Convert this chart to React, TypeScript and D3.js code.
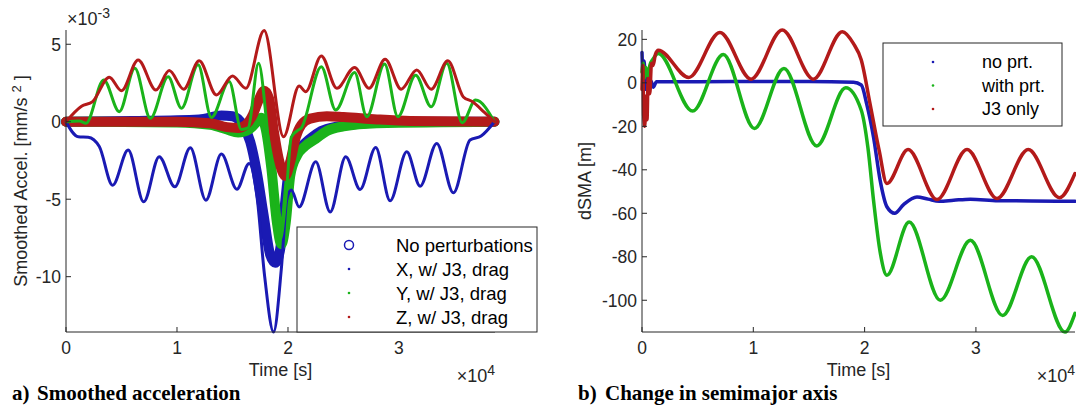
import React, { useEffect } from "react";
import * as d3 from "d3";

type Pt = [number, number];

// ---- a) smoothed acceleration, time in 1e4 s, accel in 1e-3 mm/s^2 ----
// "No perturbations" (drawn with circle markers -> thick bands)
const xNoPert: Pt[] = [
  [0, 0], [0.6, 0.05], [1.2, 0.15], [1.4, 0.4], [1.5, 0.35], [1.6, -0.3], [1.66, -1.3],
  [1.72, -3.3], [1.78, -6.0], [1.84, -8.6], [1.885, -9.1], [1.93, -8.2], [1.97, -5.5],
  [2.01, -3.0], [2.06, -2.0], [2.12, -1.6], [2.2, -1.1], [2.3, -0.6], [2.45, -0.3],
  [2.7, -0.1], [3.0, 0], [3.86, 0],
];
const yNoPert: Pt[] = [
  [0, 0], [1.0, -0.05], [1.3, -0.2], [1.45, -0.5], [1.55, -0.7], [1.65, -0.5], [1.72, 0.0],
  [1.76, 0.25], [1.8, -0.5], [1.85, -3.0], [1.9, -6.5], [1.94, -7.9], [1.98, -6.5],
  [2.02, -3.5], [2.08, -2.2], [2.15, -1.6], [2.25, -1.1], [2.35, -0.6], [2.5, -0.3],
  [2.8, -0.1], [3.86, 0],
];
const zNoPert: Pt[] = [
  [0, 0], [1.0, 0.0], [1.3, -0.1], [1.45, -0.35], [1.55, -0.4], [1.62, -0.2], [1.68, 0.4],
  [1.73, 1.3], [1.785, 2.0], [1.83, 1.5], [1.87, -0.5], [1.92, -2.5], [1.975, -3.5],
  [2.02, -2.6], [2.07, -1.0], [2.12, -0.2], [2.2, 0.2], [2.35, 0.35], [2.5, 0.3],
  [2.8, 0.15], [3.1, 0.05], [3.86, 0],
];
// with J3 and drag (dot markers -> thin lines)
const xJ3: Pt[] = [
  [0, 0], [0.11, -0.97], [0.2, -1.0], [0.3, -1.6], [0.42, -4.1], [0.56, -1.83], [0.7, -5.17],
  [0.84, -2.26], [0.98, -4.2], [1.12, -1.68], [1.26, -5.06], [1.4, -2.09], [1.54, -4.35],
  [1.65, -2.69], [1.72, -4.8], [1.79, -10], [1.87, -13.57], [1.94, -9.5], [1.99, -5.0],
  [2.03, -4.4], [2.1, -5.5], [2.25, -2.59], [2.38, -5.82], [2.52, -2.26], [2.65, -4.37],
  [2.79, -1.66], [2.92, -5.1], [3.07, -1.94], [3.19, -4.16], [3.34, -1.4], [3.49, -4.59],
  [3.64, -1.18], [3.74, -0.92], [3.86, 0],
];
const yJ3: Pt[] = [
  [0, 0], [0.12, 0.05], [0.18, -0.1], [0.34, 2.7], [0.48, 0.65], [0.62, 3.45], [0.76, 0.22],
  [0.92, 2.9], [1.04, 0.87], [1.19, 3.67], [1.31, 0.28], [1.47, 2.59], [1.58, -0.5],
  [1.64, -0.4], [1.735, 3.77], [1.8, 0.5], [1.86, -4.5], [1.93, -7.6], [1.98, -5],
  [2.03, -1.0], [2.08, -0.6], [2.12, -0.4], [2.3, 3.55], [2.43, 0.76], [2.6, 3.17],
  [2.71, 0.32], [2.87, 3.73], [2.99, 0.32], [3.15, 3.0], [3.29, 0.97], [3.43, 3.77],
  [3.57, -0.06], [3.69, 1.4], [3.86, 0],
];
const zJ3: Pt[] = [
  [0, 0], [0.14, 1.0], [0.24, 1.3], [0.39, 2.87], [0.5, 2.0], [0.65, 3.99], [0.81, 2.05],
  [0.93, 3.3], [1.06, 2.1], [1.2, 3.94], [1.355, 1.73], [1.5, 2.95], [1.62, 2.16],
  [1.785, 5.88], [1.96, -0.97], [2.1, 2.3], [2.16, 1.94], [2.3, 4.25], [2.44, 2.16],
  [2.6, 3.5], [2.73, 2.16], [2.875, 4.03], [3.02, 2.1], [3.16, 3.34], [3.29, 2.1],
  [3.44, 3.94], [3.58, 1.6], [3.66, 1.3], [3.77, 0.6], [3.86, 0],
];

// ---- b) change in semimajor axis [m] ----
const smaNoPrt: Pt[] = [
  [0, 14], [0.01, 2], [0.02, 10], [0.03, -3], [0.045, 6], [0.06, -4], [0.08, 1], [0.1, -2],
  [0.13, 0.5], [0.5, 0.5], [1.0, 0.6], [1.5, 0.6], [1.9, 0.3], [1.97, -1], [2.02, -10],
  [2.08, -25], [2.14, -45], [2.2, -57], [2.27, -60], [2.35, -56], [2.47, -52.5],
  [2.57, -53.5], [2.67, -54.5], [2.8, -54], [2.95, -53.5], [3.2, -54.2], [3.5, -54.3],
  [3.89, -54.5],
];
const smaWithPrt: Pt[] = [
  [0, 5], [0.01, 9], [0.02, 2], [0.035, 7], [0.05, 3], [0.07, 8], [0.1, 11], [0.146, 13.5],
  [0.455, -13], [0.73, 13], [1.01, -21], [1.275, 6.6], [1.57, -29], [1.83, -2.3],
  [1.97, -12.6], [2.03, -30], [2.08, -54], [2.14, -78], [2.2, -88.5], [2.4, -64],
  [2.68, -100], [2.95, -72.4], [3.24, -107], [3.5, -80], [3.8, -114.6], [3.89, -106],
];
const smaJ3Only: Pt[] = [
  [0, -3], [0.008, 8], [0.015, -15], [0.025, -20], [0.035, -6], [0.045, -17], [0.055, 2],
  [0.07, -5], [0.085, 9], [0.1, 8], [0.12, 13], [0.146, 15], [0.42, 2.5], [0.7, 23.2],
  [0.98, 1.7], [1.26, 24.3], [1.54, 1.7], [1.8, 23.5], [1.9, 18], [1.97, 10.5], [2.05, -10],
  [2.13, -31], [2.2, -46.3], [2.39, -30.7], [2.65, -53.7], [2.92, -30.7], [3.19, -53.2],
  [3.47, -30.7], [3.75, -52.8], [3.89, -41.7],
];

const timeTicks = [0, 1, 2, 3];
const accelTicks = [5, 0, -5, -10];
const smaTicks = [20, 0, -20, -40, -60, -80, -100];
const accelLegend = ["No perturbations", "X, w/ J3, drag", "Y, w/ J3, drag", "Z, w/ J3, drag"];
const smaLegend = ["no prt.", "with prt.", "J3 only"];

const BLUE = "#1a1ab3";
const GREEN = "#1ab31a";
const RED = "#b31a1a";
const AX = "#262626";
const SANS = "'Liberation Sans', Arial, Helvetica, sans-serif";
const SERIF = "'Liberation Serif', 'Times New Roman', serif";
const TICK_FS = 17.5;

const W = 1076;
const H = 410;

const ax1 = {
  x: d3.scaleLinear().domain([0, 3.865]).range([66, 495]),
  y: d3.scaleLinear().domain([-13.57, 5.92]).range([332, 30]),
};
const ax2 = {
  x: d3.scaleLinear().domain([0, 3.89]).range([642, 1075]),
  y: d3.scaleLinear().domain([-114.6, 24.3]).range([332, 30]),
};

const pathFor = (sx, sy, data: Pt[]) =>
  d3
    .line<Pt>()
    .x((d) => sx(d[0]))
    .y((d) => sy(d[1]))
    .curve(d3.curveMonotoneX)(data) || "";

function Axes({ sx, sy, yTicks }) {
  const [x0, x1] = sx.range();
  const [y1, y0] = sy.range();
  return (
    <g>
      <line x1={x0} x2={x1} y1={y1} y2={y1} stroke={AX} strokeWidth={1} />
      <line x1={x0} x2={x0} y1={y0} y2={y1} stroke={AX} strokeWidth={1} />
      {timeTicks.map((t) => (
        <g key={"x" + t}>
          <line x1={sx(t)} x2={sx(t)} y1={y1} y2={y1 - 5} stroke={AX} />
          <text x={sx(t)} y={354} textAnchor="middle" fontSize={TICK_FS} fill={AX}>
            {t}
          </text>
        </g>
      ))}
      {yTicks.map((t) => (
        <g key={"y" + t}>
          <line x1={x0} x2={x0 + 5} y1={sy(t)} y2={sy(t)} stroke={AX} />
          <text x={x0 - 5} y={sy(t)} dy="0.36em" textAnchor="end" fontSize={TICK_FS} fill={AX}>
            {t}
          </text>
        </g>
      ))}
      <text x={(x0 + x1) / 2} y={376} textAnchor="middle" fontSize={18} fill={AX}>
        Time [s]
      </text>
      <text x={x1} y={382} textAnchor="end" fontSize={18} fill={AX}>
        <tspan>×10</tspan>
        <tspan dy={-7} fontSize={14}>4</tspan>
      </text>
    </g>
  );
}

export default function App() {
  useEffect(() => {
    document.body.style.margin = "0";
  }, []);

  const s1 = (d: Pt[]) => pathFor(ax1.x, ax1.y, d);
  const s2 = (d: Pt[]) => pathFor(ax2.x, ax2.y, d);
  const thick = [
    { d: xNoPert, c: BLUE },
    { d: yNoPert, c: GREEN },
    { d: zNoPert, c: RED },
  ];
  const thin = [
    { d: xJ3, c: BLUE },
    { d: yJ3, c: GREEN },
    { d: zJ3, c: RED },
  ];
  const sma = [
    { d: smaNoPrt, c: BLUE },
    { d: smaWithPrt, c: GREEN },
    { d: smaJ3Only, c: RED },
  ];
  const accColors = [BLUE, BLUE, GREEN, RED];

  return (
    <svg
      width={W}
      height={H}
      style={{ position: "absolute", left: 0, top: 0, background: "#fff" }}
      fontFamily={SANS}
    >
      <rect width={W} height={H} fill="#fff" />

      {/* a) */}
      {thick.map((s, i) => (
        <path key={"k" + i} d={s1(s.d)} fill="none" stroke={s.c} strokeWidth={10}
          strokeLinejoin="round" strokeLinecap="round" />
      ))}
      {thin.map((s, i) => (
        <path key={"n" + i} d={s1(s.d)} fill="none" stroke={s.c} strokeWidth={3}
          strokeLinejoin="round" strokeLinecap="round" />
      ))}
      <Axes sx={ax1.x} sy={ax1.y} yTicks={accelTicks} />
      <text x={67} y={25} fontSize={18} fill={AX}>
        <tspan>×10</tspan>
        <tspan dy={-7} fontSize={14}>-3</tspan>
      </text>
      <text transform="translate(27,181) rotate(-90)" textAnchor="middle" fontSize={18} fill={AX}>
        <tspan>Smoothed Accel. [mm/s </tspan>
        <tspan dy={-6} fontSize={13}>2</tspan>
        <tspan dy={6}> ]</tspan>
      </text>
      <g>
        <rect x={297} y={227} width={240} height={105} fill="#fff" stroke={AX} strokeWidth={1} />
        {accelLegend.map((name, i) => {
          const cy = 245 + i * 24;
          return (
            <g key={name}>
              {i === 0 ? (
                <circle cx={349} cy={cy} r={4.5} fill="none" stroke={BLUE} strokeWidth={1.5} />
              ) : (
                <circle cx={349} cy={cy} r={1.3} fill={accColors[i]} />
              )}
              <text x={396} y={cy} dy="0.36em" fontSize={18.5} fill="#000">
                {name}
              </text>
            </g>
          );
        })}
      </g>

      {/* b) */}
      {sma.map((s, i) => (
        <path key={"s" + i} d={s2(s.d)} fill="none" stroke={s.c} strokeWidth={3.5}
          strokeLinejoin="round" strokeLinecap="round" />
      ))}
      <Axes sx={ax2.x} sy={ax2.y} yTicks={smaTicks} />
      <text transform="translate(591,181) rotate(-90)" textAnchor="middle" fontSize={18} fill={AX}>
        dSMA [m]
      </text>
      <g>
        <rect x={883} y={43} width={179} height={83} fill="#fff" stroke={AX} strokeWidth={1} />
        {smaLegend.map((name, i) => {
          const cy = 62 + i * 23.5;
          return (
            <g key={name}>
              <circle cx={933} cy={cy} r={1.3} fill={sma[i].c} />
              <text x={982} y={cy} dy="0.36em" fontSize={18} fill="#000">
                {name}
              </text>
            </g>
          );
        })}
      </g>

      {/* captions */}
      <g fontFamily={SERIF} fontWeight="bold" fontSize={21} fill="#000">
        <text x={12} y={400}>a)</text>
        <text x={37} y={400}>Smoothed acceleration</text>
        <text x={578} y={400}>b)</text>
        <text x={605} y={400}>Change in semimajor axis</text>
      </g>
    </svg>
  );
}
